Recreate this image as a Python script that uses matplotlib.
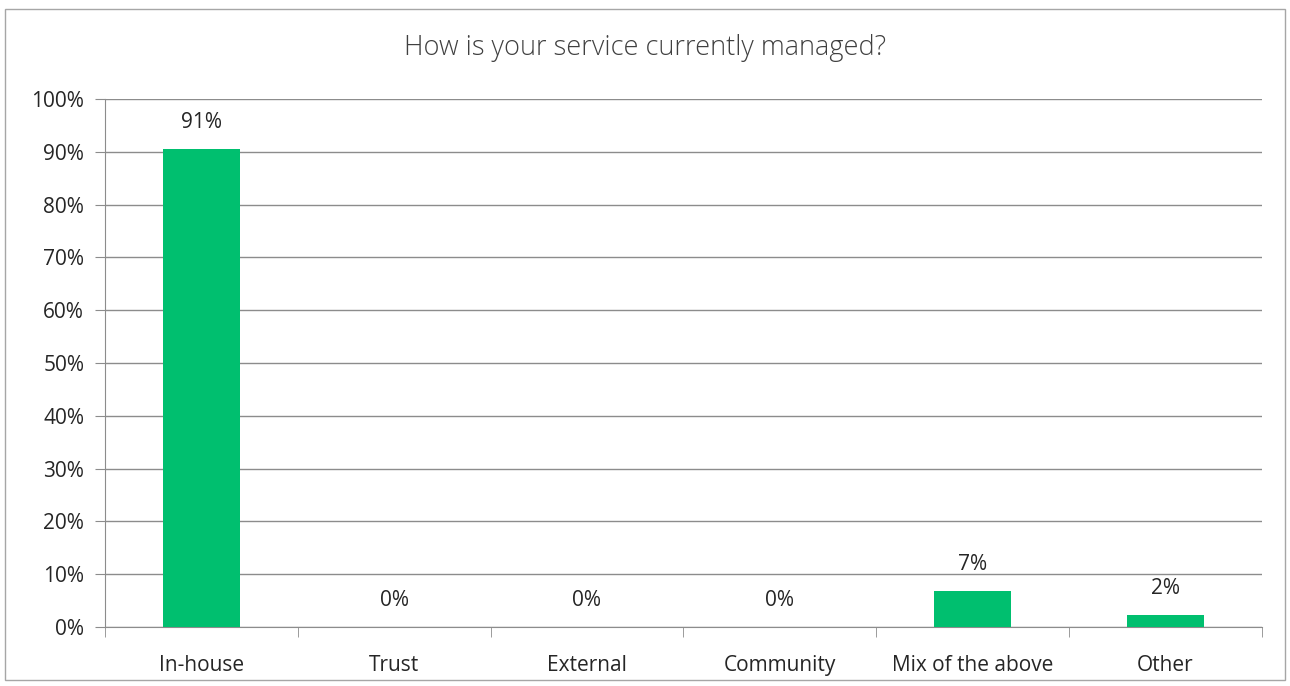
import numpy as np
import matplotlib.pyplot as plt
from matplotlib.patches import Rectangle

categories = ['In-house', 'Trust', 'External', 'Community', 'Mix of the above', 'Other']
values = [90.5, 0, 0, 0, 6.8, 2.3]
labels = ['91%', '0%', '0%', '0%', '7%', '2%']
title = 'How is your service currently managed?'

plt.rcParams['font.family'] = ['Open Sans', 'DejaVu Sans']

fig = plt.figure(figsize=(12.9, 6.86), dpi=100)
ax = fig.add_axes([0.0814, 0.086, 0.8966, 0.7697])

fig.patches.append(Rectangle((0.004, 0.009), 0.992, 0.978, transform=fig.transFigure,
                             fill=False, edgecolor='#a6a6a6', linewidth=1))

x = np.arange(len(categories))
ax.bar(x, values, width=0.4, color='#00bf6f', zorder=3)

for xi, v, lab in zip(x, values, labels):
    ax.text(xi, v + 5, lab, ha='center', va='center', fontsize=15, color='#262626')

ax.set_xlim(-0.5, len(categories) - 0.5)
ax.set_ylim(0, 100)
ax.set_yticks(np.arange(0, 101, 10))
ax.set_yticklabels([f'{t}%' for t in range(0, 101, 10)], fontsize=15, color='#262626')
ax.yaxis.grid(True, color='#8c8c8c', linewidth=1, zorder=0)

ax.set_xticks(x)
ax.set_xticklabels(categories, fontsize=15, color='#262626')
ax.set_xticks(np.arange(-0.5, len(categories), 1), minor=True)
ax.tick_params(axis='x', which='major', length=0, pad=20)
ax.tick_params(axis='x', which='minor', length=7, color='#8c8c8c')
ax.tick_params(axis='y', length=7, color='#8c8c8c', pad=8)

for s in ['top', 'right']:
    ax.spines[s].set_visible(False)
for s in ['left', 'bottom']:
    ax.spines[s].set_color('#8c8c8c')

fig.text(0.5, 0.93, title, ha='center', va='center', fontsize=19.5,
         color='#404040', fontweight='light')

plt.savefig('out.png')
